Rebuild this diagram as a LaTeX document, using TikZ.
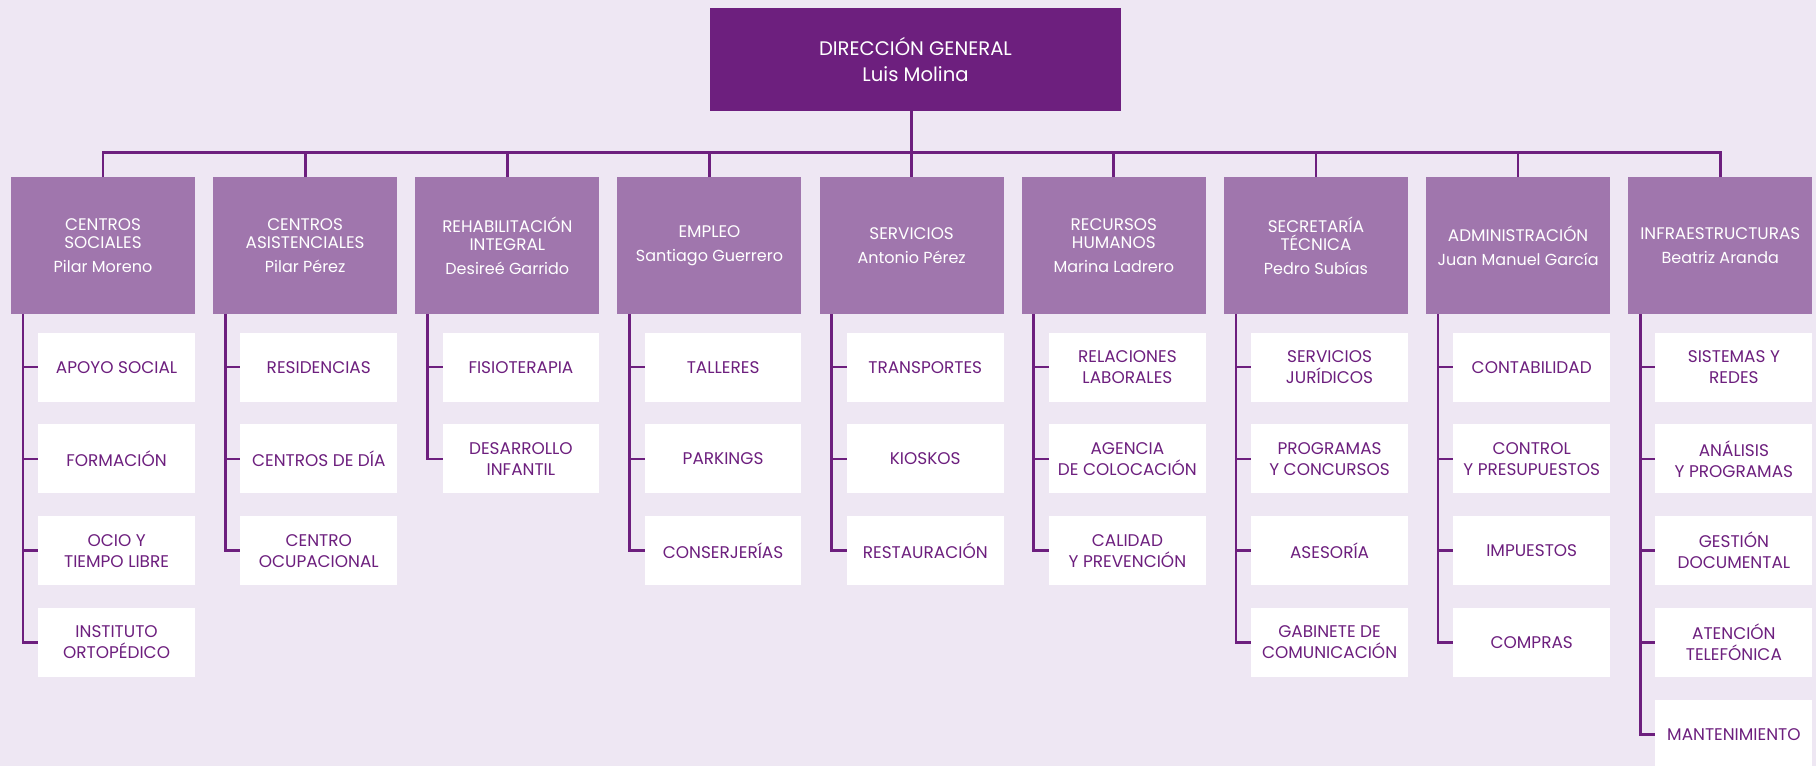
\documentclass[tikz,border=0pt]{standalone}
\usepackage{fontspec}
\setmainfont{Poppins}
\usetikzlibrary{positioning}
\definecolor{bgcol}{HTML}{EEE7F3}
\definecolor{darkpurple}{HTML}{6D1F7E}
\definecolor{midpurple}{HTML}{A076AD}
\newcommand{\person}[1]{{\fontsize{8}{9.3}\selectfont #1}}

\begin{document}
\begin{tikzpicture}
		[font=\fontsize{8.4}{9.3}\selectfont,
		every node/.style={rectangle, align=center, inner sep=0pt, outer sep=0pt},
		head/.style={fill=darkpurple, text=white, minimum width=205.5pt,
			minimum height=51.3pt, font=\fontsize{9.8}{11.5}\selectfont},
		dept/.style={fill=midpurple, text=white, minimum width=92pt,
			minimum height=68.6pt},
		unit/.style={fill=white, text=darkpurple, minimum width=78.4pt,
			minimum height=34.5pt, font=\fontsize{8.45}{10.5}\selectfont},
		link/.style={draw=darkpurple, line width=1.35pt},
		node distance=11.4pt and 9.08pt,
		]
		\fill[bgcol] (0,0) rectangle (908pt,-383pt);
		\useasboundingbox (0,0) rectangle (908pt,-383pt);
		
		\node[head] (dg) at (457.75pt,-29.7pt) {DIRECCIÓN GENERAL\\[1.8pt]Luis Molina};
		
		% areas
		\node[dept, anchor=north west] (c1) at (5.5pt,-88.5pt) {CENTROS\\SOCIALES\\[2.7pt]\person{Pilar Moreno}};
		\node[dept, right=of c1] (c2) {CENTROS\\ASISTENCIALES\\[2.7pt]\person{Pilar Pérez}};
		\node[dept, right=of c2] (c3) {REHABILITACIÓN\\INTEGRAL\\[2.7pt]\person{Desireé Garrido}};
		\node[dept, right=of c3] (c4) {EMPLEO\\[2.7pt]\person{Santiago Guerrero}};
		\node[dept, right=of c4] (c5) {SERVICIOS\\[2.7pt]\person{Antonio Pérez}};
		\node[dept, right=of c5] (c6) {RECURSOS\\HUMANOS\\[2.7pt]\person{Marina Ladrero}};
		\node[dept, right=of c6] (c7) {SECRETARÍA\\TÉCNICA\\[2.7pt]\person{Pedro Subías}};
		\node[dept, right=of c7] (c8) {ADMINISTRACIÓN\\[2.7pt]\person{Juan Manuel García}};
		\node[dept, right=of c8] (c9) {INFRAESTRUCTURAS\\[2.7pt]\person{Beatriz Aranda}};
		
		% units
		\node[unit, below=9.2pt of c1.south east, anchor=north east] (c1a) {APOYO SOCIAL};
		\node[unit, below=of c1a] (c1b) {FORMACIÓN};
		\node[unit, below=of c1b] (c1c) {OCIO Y\\TIEMPO LIBRE};
		\node[unit, below=of c1c] (c1d) {INSTITUTO\\ORTOPÉDICO};
		
		\node[unit, below=9.2pt of c2.south east, anchor=north east] (c2a) {RESIDENCIAS};
		\node[unit, below=of c2a] (c2b) {CENTROS DE DÍA};
		\node[unit, below=of c2b] (c2c) {CENTRO\\OCUPACIONAL};
		
		\node[unit, below=9.2pt of c3.south east, anchor=north east] (c3a) {FISIOTERAPIA};
		\node[unit, below=of c3a] (c3b) {DESARROLLO\\INFANTIL};
		
		\node[unit, below=9.2pt of c4.south east, anchor=north east] (c4a) {TALLERES};
		\node[unit, below=of c4a] (c4b) {PARKINGS};
		\node[unit, below=of c4b] (c4c) {CONSERJERÍAS};
		
		\node[unit, below=9.2pt of c5.south east, anchor=north east] (c5a) {TRANSPORTES};
		\node[unit, below=of c5a] (c5b) {KIOSKOS};
		\node[unit, below=of c5b] (c5c) {RESTAURACIÓN};
		
		\node[unit, below=9.2pt of c6.south east, anchor=north east] (c6a) {RELACIONES\\LABORALES};
		\node[unit, below=of c6a] (c6b) {AGENCIA\\DE COLOCACIÓN};
		\node[unit, below=of c6b] (c6c) {CALIDAD\\Y PREVENCIÓN};
		
		\node[unit, below=9.2pt of c7.south east, anchor=north east] (c7a) {SERVICIOS\\JURÍDICOS};
		\node[unit, below=of c7a] (c7b) {PROGRAMAS\\Y CONCURSOS};
		\node[unit, below=of c7b] (c7c) {ASESORÍA};
		\node[unit, below=of c7c] (c7d) {GABINETE DE\\COMUNICACIÓN};
		
		\node[unit, below=9.2pt of c8.south east, anchor=north east] (c8a) {CONTABILIDAD};
		\node[unit, below=of c8a] (c8b) {CONTROL\\Y PRESUPUESTOS};
		\node[unit, below=of c8b] (c8c) {IMPUESTOS};
		\node[unit, below=of c8c] (c8d) {COMPRAS};
		
		\node[unit, below=9.2pt of c9.south east, anchor=north east] (c9a) {SISTEMAS Y\\REDES};
		\node[unit, below=of c9a] (c9b) {ANÁLISIS\\Y PROGRAMAS};
		\node[unit, below=of c9b] (c9c) {GESTIÓN\\DOCUMENTAL};
		\node[unit, below=of c9c] (c9d) {ATENCIÓN\\TELEFÓNICA};
		\node[unit, below=of c9d] (c9e) {MANTENIMIENTO};
		
		% links
		\draw[link] (dg.south -| c5.north) -- (c5.north);
		\draw[link] (c1.north) -- ++(0,12.15pt) -| (c9.north);
		\foreach \i in {2,...,8}
			\draw[link] (c\i.north) -- ++(0,12.15pt);
		\foreach \d/\kids in {c1/{a,b,c,d}, c2/{a,b,c}, c3/{a,b}, c4/{a,b,c},
			c5/{a,b,c}, c6/{a,b,c}, c7/{a,b,c,d}, c8/{a,b,c,d}, c9/{a,b,c,d,e}}
			\foreach \k in \kids
				\draw[link] ([xshift=6pt]\d.south west) |- (\d\k.west);
\end{tikzpicture}
\end{document}
